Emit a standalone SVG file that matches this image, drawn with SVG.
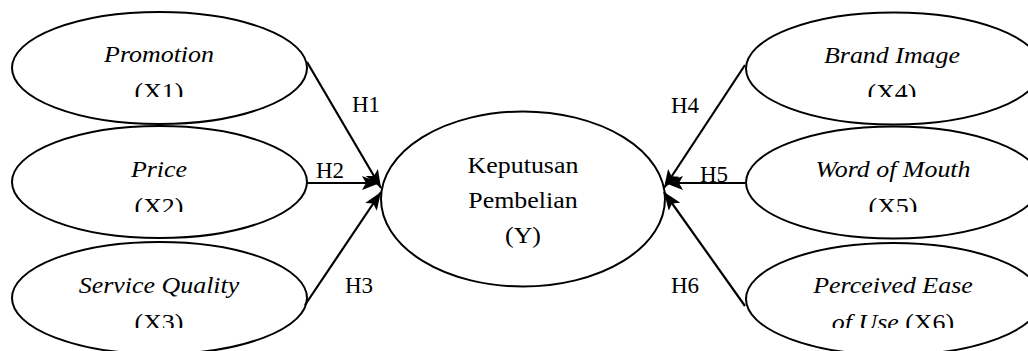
<svg xmlns="http://www.w3.org/2000/svg" width="1028" height="351" viewBox="0 0 1028 351" font-family="Liberation Serif, serif">
  <style>
    .node ellipse { fill: #fff; stroke: #000; stroke-width: 2; }
    text { font-family: 'Liberation Serif', 'Times New Roman', Times, serif; fill: #000; }
    .lbl { font-size: 24px; text-anchor: middle; }
    .it { font-style: italic; }
    .h { font-size: 23px; }
    .conn line { stroke: #000; stroke-width: 2.2; marker-end: url(#arr); }
  </style>
  <defs>
    <marker id="arr" viewBox="0 0 18 14" refX="18" refY="7" markerWidth="18" markerHeight="14" markerUnits="userSpaceOnUse" orient="auto">
      <path d="M0,0 L18,7 L0,14 L4,7 Z" fill="#000"/>
    </marker>
    <clipPath id="c1"><rect x="0" y="0" width="1028" height="97"/></clipPath>
    <clipPath id="c2"><rect x="0" y="0" width="1028" height="212"/></clipPath>
    <clipPath id="c3"><rect x="0" y="0" width="1028" height="328"/></clipPath>
  </defs>
  <rect width="1028" height="351" fill="#fff"/>

  <g id="x1" class="node">
    <ellipse cx="159.5" cy="68" rx="147.5" ry="56"/>
    <g clip-path="url(#c1)">
      <text class="lbl it" transform="translate(159,62) scale(1.08,1)">Promotion</text>
      <text class="lbl" transform="translate(159,99) scale(1.08,1)">(X1)</text>
    </g>
  </g>
  <g id="x2" class="node">
    <ellipse cx="159.5" cy="182" rx="147.5" ry="56"/>
    <g clip-path="url(#c2)">
      <text class="lbl it" transform="translate(159,177) scale(1.08,1)">Price</text>
      <text class="lbl" transform="translate(159,214) scale(1.08,1)">(X2)</text>
    </g>
  </g>
  <g id="x3" class="node">
    <ellipse cx="159.5" cy="298" rx="147.5" ry="56"/>
    <g clip-path="url(#c3)">
      <text class="lbl it" transform="translate(159,293) scale(1.08,1)">Service Quality</text>
      <text class="lbl" transform="translate(159,330) scale(1.08,1)">(X3)</text>
    </g>
  </g>

  <g id="y" class="node">
    <ellipse cx="523" cy="199" rx="142" ry="87.5"/>
    <text class="lbl" transform="translate(523,172.5) scale(1.08,1)">Keputusan</text>
    <text class="lbl" transform="translate(523,207.5) scale(1.08,1)">Pembelian</text>
    <text class="lbl" transform="translate(523,243) scale(1.08,1)">(Y)</text>
  </g>

  <g id="x4" class="node">
    <ellipse cx="893.5" cy="68.5" rx="147.5" ry="56"/>
    <g clip-path="url(#c1)">
      <text class="lbl it" transform="translate(892,63) scale(1.08,1)">Brand Image</text>
      <text class="lbl" transform="translate(892,100) scale(1.08,1)">(X4)</text>
    </g>
  </g>
  <g id="x5" class="node">
    <ellipse cx="893.5" cy="182.5" rx="147.5" ry="56"/>
    <g clip-path="url(#c2)">
      <text class="lbl it" transform="translate(893,177) scale(1.08,1)">Word of Mouth</text>
      <text class="lbl" transform="translate(893,214) scale(1.08,1)">(X5)</text>
    </g>
  </g>
  <g id="x6" class="node">
    <ellipse cx="893.5" cy="299" rx="147.5" ry="56"/>
    <g clip-path="url(#c3)">
      <text class="lbl it" transform="translate(893,293) scale(1.08,1)">Perceived Ease</text>
      <text class="lbl" transform="translate(893,330) scale(1.08,1)"><tspan font-style="italic">of Use</tspan> (X6)</text>
    </g>
  </g>

  <g id="connectors" class="conn">
    <line x1="307" y1="62" x2="381" y2="188"/>
    <line x1="307" y1="183" x2="380" y2="183"/>
    <line x1="305" y1="305" x2="381" y2="192"/>
    <line x1="745" y1="65" x2="664" y2="188"/>
    <line x1="745" y1="183" x2="665" y2="183"/>
    <line x1="745" y1="306" x2="664" y2="192"/>
  </g>

  <g id="labels">
    <text class="h" x="352" y="112">H1</text>
    <text class="h" x="316" y="178">H2</text>
    <text class="h" x="345" y="293">H3</text>
    <text class="h" x="671" y="113">H4</text>
    <text class="h" x="700" y="182">H5</text>
    <text class="h" x="671" y="293">H6</text>
  </g>
</svg>
